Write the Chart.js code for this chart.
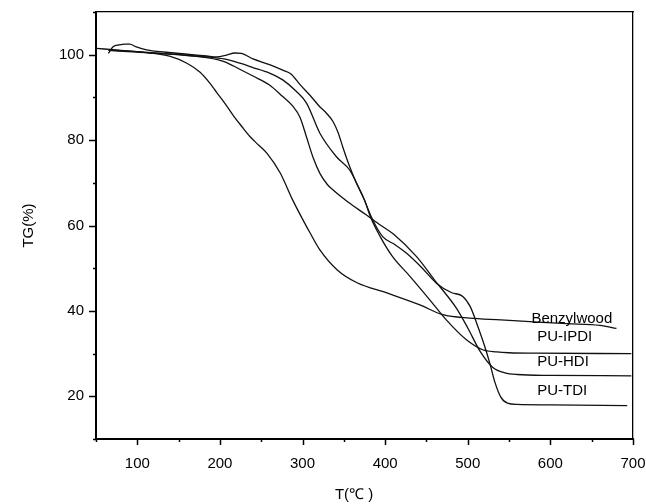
<!DOCTYPE html>
<html>
<head>
<meta charset="utf-8">
<script src="https://cdn.jsdelivr.net/npm/chart.js@4.4.0/dist/chart.umd.min.js"></script>
<style>
  html, body { margin: 0; padding: 0; background: #fff; }
  #wrap { width: 646px; height: 504px; }
</style>
</head>
<body>
<div id="wrap"><canvas id="tgChart"></canvas></div>
<script>
// TG curves: temperature (°C) and mass left (%)
var benzylT  = [50, 80, 115, 140, 160, 176, 188, 196, 206, 216, 226, 236, 247, 257, 273, 288, 300, 309, 321, 342, 366, 402, 442, 470, 502, 540, 575, 620, 660, 680];
var benzylTG = [101.5, 101.0, 100.4, 99.6, 98.0, 95.9, 93.3, 91.2, 88.6, 85.8, 83.3, 80.9, 78.8, 76.9, 72.3, 66.0, 61.5, 58.3, 54.3, 49.6, 46.6, 44.2, 41.4, 39.1, 38.3, 37.9, 37.5, 37.0, 36.6, 35.9];

var ipdiT  = [65, 71, 78, 85, 91, 98, 110, 145, 184, 196, 208, 218, 226, 240, 260, 276, 286, 297, 309, 320, 329, 337, 343, 349, 357, 365, 375, 382, 394, 409, 430, 454, 474, 498, 518, 535, 550, 580, 698];
var ipdiTG = [100.3, 101.9, 102.3, 102.5, 102.5, 101.9, 101.2, 100.4, 99.7, 99.5, 99.9, 100.4, 100.3, 99.0, 97.7, 96.4, 95.5, 93.0, 90.5, 88.0, 86.3, 84.3, 81.8, 78.2, 73.8, 70.0, 66.0, 62.1, 57.4, 52.7, 48.1, 42.6, 37.9, 33.3, 30.9, 30.4, 30.2, 30.1, 30.0];

var hdiT  = [65, 100, 150, 184, 205, 224, 240, 260, 276, 288, 297, 305, 313, 321, 330, 337, 355, 377, 395, 410, 438, 462, 486, 500, 515, 530, 545, 560, 600, 698];
var hdiTG = [101.0, 100.6, 100.0, 99.3, 98.4, 96.6, 95.0, 92.9, 90.2, 88.0, 85.3, 80.6, 75.8, 72.2, 69.6, 68.3, 65.5, 62.5, 60.0, 58.0, 52.7, 46.7, 40.7, 36.0, 30.5, 26.8, 25.5, 25.1, 24.9, 24.8];

var tdiT  = [65, 100, 150, 184, 205, 224, 240, 260, 276, 292, 305, 321, 341, 357, 373, 385, 397, 412, 426, 445, 462, 480, 494, 503, 511, 520, 527, 533, 540, 548, 560, 600, 693];
var tdiTG = [101.2, 100.7, 100.0, 99.5, 99.0, 98.0, 97.0, 95.7, 94.1, 91.5, 88.6, 81.6, 76.1, 73.0, 66.8, 61.3, 57.4, 55.5, 53.5, 50.0, 46.5, 44.3, 43.4, 41.0, 37.0, 32.0, 27.5, 23.2, 19.8, 18.4, 18.1, 18.0, 17.8];

// curve names written next to the plateaus, anchored in data units
var curveNames = ['Benzylwood', 'PU-IPDI', 'PU-HDI', 'PU-TDI'];
var nameAtT    = [577, 584, 584, 584];
var nameAtTG   = [38.1, 34.0, 28.1, 21.3];

var FONT = 'Arial, "Liberation Sans", sans-serif';

function toPoints(xs, ys) {
    return xs.map(function(x, i) {
        return {x: x, y: ys[i]};
    });
}

function curve(label, xs, ys) {
    return {
        label: label,
        data: toPoints(xs, ys),
        borderColor: '#111',
        borderWidth: 1.3,
        pointRadius: 0,
        fill: false,
        cubicInterpolationMode: 'monotone'
    };
}

// keep tick labels from pushing the plot area inwards
function noEdgePadding(s) {
    s.paddingTop = 0;
    s.paddingBottom = 0;
    s.paddingLeft = 0;
    s.paddingRight = 0;
}

// Short outward tick marks, long on labelled values
var tickMarks = {
    id: 'tickMarks',
    afterDraw: function(chart) {
        var ctx = chart.ctx;
        var area = chart.chartArea;
        var xs = chart.scales.x;
        var ys = chart.scales.y;
        ctx.save();
        ctx.strokeStyle = '#000';
        ctx.lineWidth = 1.5;
        ctx.beginPath();
        xs.ticks.forEach(function(t) {
            var px = Math.round(xs.getPixelForValue(t.value)) + 0.5;
            var len = t.value % 100 === 0 ? 6 : 3;
            ctx.moveTo(px, area.bottom);
            ctx.lineTo(px, area.bottom + len);
        });
        ys.ticks.forEach(function(t) {
            var py = Math.round(ys.getPixelForValue(t.value)) + 0.5;
            var len = t.value % 20 === 0 ? 7 : 3;
            ctx.moveTo(area.left, py);
            ctx.lineTo(area.left - len, py);
        });
        ctx.stroke();
        ctx.restore();
    }
};

var curveLabels = {
    id: 'curveLabels',
    afterDatasetsDraw: function(chart) {
        var ctx = chart.ctx;
        var xs = chart.scales.x;
        var ys = chart.scales.y;
        ctx.save();
        ctx.fillStyle = '#000';
        ctx.font = '15px ' + FONT;
        ctx.textAlign = 'left';
        ctx.textBaseline = 'middle';
        curveNames.forEach(function(name, i) {
            ctx.fillText(name, xs.getPixelForValue(nameAtT[i]), ys.getPixelForValue(nameAtTG[i]));
        });
        ctx.restore();
    }
};

new Chart(document.getElementById('tgChart'), {
    type: 'line',
    data: {
        datasets: [
            curve('Benzylwood', benzylT, benzylTG),
            curve('PU-IPDI', ipdiT, ipdiTG),
            curve('PU-HDI', hdiT, hdiTG),
            curve('PU-TDI', tdiT, tdiTG)
        ]
    },
    options: {
        responsive: true,
        maintainAspectRatio: false,
        animation: false,
        layout: {padding: {left: 0, right: 13, top: 12, bottom: 0}},
        plugins: {
            legend: {display: false},
            tooltip: {enabled: false}
        },
        scales: {
            x: {
                type: 'linear',
                position: 'bottom',
                min: 50,
                max: 700,
                grid: {display: false, drawTicks: false},
                border: {display: true, color: '#000', width: 2},
                ticks: {
                    stepSize: 50,
                    autoSkip: false,
                    maxRotation: 0,
                    padding: 16,
                    color: '#000',
                    font: {family: FONT, size: 15},
                    callback: function(v) { return v % 100 === 0 ? v : ''; }
                },
                title: {
                    display: true,
                    // trailing spaces nudge the centred title a little left, as in the original
                    text: 'T(℃ )\u00a0\u00a0\u00a0\u00a0\u00a0',
                    color: '#000',
                    font: {family: FONT, size: 15},
                    padding: {top: 3, bottom: 0}
                },
                afterFit: function(s) { s.height = 65; noEdgePadding(s); }
            },
            y: {
                type: 'linear',
                position: 'left',
                min: 10,
                max: 110,
                grid: {display: false, drawTicks: false},
                border: {display: true, color: '#000', width: 2},
                ticks: {
                    stepSize: 10,
                    autoSkip: false,
                    padding: 12,
                    color: '#000',
                    font: {family: FONT, size: 15},
                    callback: function(v) { return (v % 20 === 0 && v >= 20 && v <= 100) ? v : ''; }
                },
                title: {
                    display: true,
                    text: 'TG(%)',
                    color: '#000',
                    font: {family: FONT, size: 15},
                    padding: {top: 20, bottom: 0}
                },
                afterFit: function(s) { s.width = 96; noEdgePadding(s); }
            },
            xTop: {
                type: 'linear',
                position: 'top',
                min: 50,
                max: 700,
                grid: {display: false, drawTicks: false},
                border: {display: true, color: '#000', width: 1.3},
                ticks: {display: false},
                afterFit: function(s) { s.height = 0; noEdgePadding(s); }
            },
            yRight: {
                type: 'linear',
                position: 'right',
                min: 10,
                max: 110,
                grid: {display: false, drawTicks: false},
                border: {display: true, color: '#000', width: 1.3},
                ticks: {display: false},
                afterFit: function(s) { s.width = 0; noEdgePadding(s); }
            }
        }
    },
    plugins: [tickMarks, curveLabels]
});
</script>
</body>
</html>
